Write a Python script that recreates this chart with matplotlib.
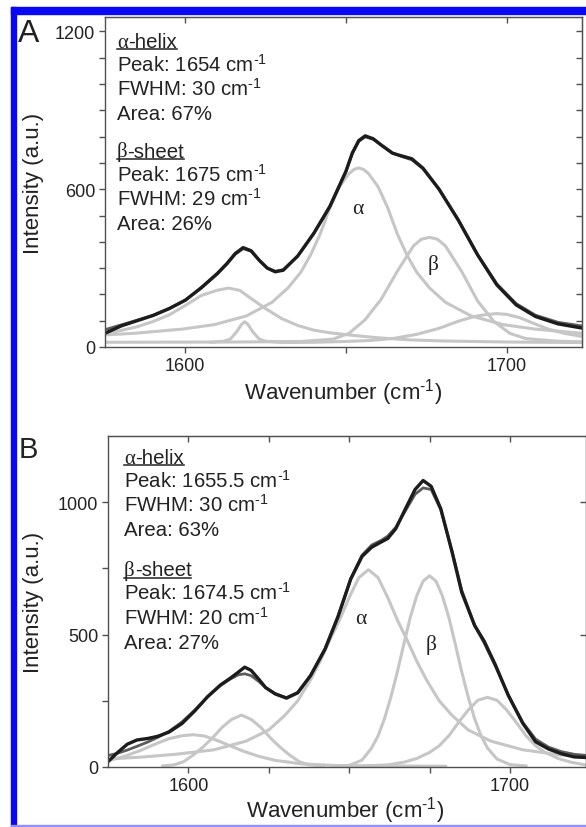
import matplotlib
matplotlib.use("Agg")
import matplotlib.pyplot as plt
from matplotlib.patches import Rectangle
from matplotlib.lines import Line2D

plt.rcParams['font.family'] = ['Liberation Sans', 'DejaVu Sans']
plt.rcParams['mathtext.fontset'] = 'custom'
plt.rcParams['mathtext.rm'] = 'Liberation Sans'
plt.rcParams['mathtext.default'] = 'regular'

W, H = 586, 828
DARK = '#1c1c1c'
FIT = '#5c5c5c'
LIGHT = '#c6c6c6'
SPINE = '#505050'
TXT = '#222222'
SERIF = ['Liberation Serif', 'DejaVu Serif']

# ---- Panel A data ----
a_wn = [1575, 1580, 1585, 1590, 1595, 1600, 1605, 1610, 1613, 1615.5, 1618, 1620.5,
        1623, 1625.5, 1628, 1630.5, 1635, 1640, 1645, 1650, 1652, 1654, 1656, 1658.5,
        1661, 1664.5, 1667, 1670.5, 1674, 1679, 1685, 1691, 1697, 1703, 1709, 1716, 1723.5]
a_meas = [52, 80, 100, 120, 146, 178, 226, 280, 318, 355, 378, 366,
          330, 300, 286, 292, 346, 432, 534, 668, 738, 785, 803, 792,
          768, 737, 728, 716, 680, 600, 482, 350, 236, 160, 116, 88, 72]
a_fit = [66, 84, 102, 121, 147, 178, 224, 278, 316, 352, 374, 364,
         330, 301, 288, 294, 346, 433, 536, 668, 736, 782, 799, 790,
         768, 738, 726, 712, 678, 600, 484, 352, 240, 165, 121, 94, 80]

a_b1_wn = [1575, 1580, 1585, 1590, 1595, 1600, 1605, 1610, 1613.5, 1617, 1621, 1625,
           1630, 1635, 1640, 1645, 1650, 1660, 1670, 1680, 1690, 1700, 1712, 1723.5]
a_b1 = [52, 63, 77, 97, 122, 158, 196, 216, 224, 215, 180, 146,
        108, 82, 64, 54, 47, 35, 27, 23, 21, 19, 18, 17]

a_b2_wn = [1608, 1612, 1614, 1616, 1617.5, 1618.5, 1619.5, 1621, 1623, 1625, 1629]
a_b2 = [18, 22, 30, 58, 86, 96, 86, 58, 30, 22, 18]

a_alpha_wn = [1575, 1584, 1599, 1609, 1619, 1627, 1632, 1636, 1639, 1642, 1645, 1648, 1651,
              1652.5, 1654, 1655.5, 1657, 1660, 1663, 1666, 1669, 1672, 1676, 1681, 1689,
              1699, 1709, 1723.5]
a_alpha = [46, 52, 68, 85, 118, 170, 225, 285, 350, 430, 530, 610, 660,
           675, 681, 675, 660, 610, 530, 430, 350, 285, 225, 170, 118,
           85, 68, 52]

a_beta_wn = [1575, 1616, 1636, 1646, 1651, 1656, 1661, 1666, 1671, 1673.5,
             1676, 1678.5, 1681, 1686, 1691, 1696, 1701, 1706, 1716, 1723.5]
a_beta = [18, 19, 21, 30, 52, 104, 182, 288, 384, 410,
          417, 410, 384, 288, 175, 98, 52, 32, 22, 20]

a_b5_wn = [1630, 1640, 1650, 1658, 1665, 1672, 1679, 1685, 1690, 1694, 1697, 1700,
           1704, 1708, 1713, 1718, 1723.5]
a_b5 = [17, 18, 21, 25, 33, 48, 71, 98, 116, 124, 127, 124, 112, 92, 68, 52, 40]

# ---- Panel B data ----
b_wn = [1575, 1578, 1581, 1584, 1587.5, 1590.5, 1594, 1598, 1602, 1606, 1610, 1613,
        1615.5, 1617.5, 1619.5, 1622, 1624, 1627, 1630.5, 1634, 1638, 1642.5, 1646.5,
        1650.5, 1654, 1657, 1660, 1662, 1664.5, 1667.5, 1670.5, 1673, 1675.5, 1678.5,
        1682, 1685, 1689, 1692, 1695.5, 1699.5, 1704, 1708, 1712, 1716, 1720, 1723.5]
b_meas = [20, 55, 86, 102, 108, 116, 132, 164, 212, 266, 310, 335,
          358, 377, 365, 330, 300, 276, 260, 280, 345, 445, 566,
          710, 795, 830, 850, 863, 900, 975, 1048, 1082, 1060, 975,
          812, 660, 535, 475, 385, 270, 165, 95, 68, 50, 38, 36]
b_fit = [43, 52, 64, 78, 95, 112, 135, 170, 215, 265, 308, 332,
         348, 352, 345, 322, 300, 277, 262, 282, 346, 447, 570,
         712, 800, 838, 856, 872, 905, 968, 1030, 1054, 1048, 972,
         815, 668, 535, 468, 380, 272, 168, 105, 75, 58, 48, 44]

b_b1_wn = [1575, 1580, 1585, 1590, 1594, 1598, 1601.5, 1605, 1609, 1613, 1617, 1622,
           1627, 1635, 1645, 1660, 1680]
b_b1 = [24, 40, 62, 88, 107, 118, 122, 117, 100, 80, 60, 40, 25, 12, 6, 4, 3]

b_b2_wn = [1592, 1595.5, 1598.5, 1601.5, 1604.5, 1607.5, 1610.5, 1613.5, 1616.5,
           1619.5, 1622.5, 1625.5, 1628.5, 1631.5, 1634.5, 1637.5, 1642]
b_b2 = [4, 8, 20, 45, 75, 110, 150, 180, 196, 180, 150, 110, 75, 45, 20, 8, 4]

b_alpha_wn = [1575, 1586, 1596, 1608, 1618, 1625, 1630, 1634, 1638, 1641, 1644, 1647, 1650,
              1653, 1656, 1659, 1662, 1665, 1668, 1671, 1674, 1678, 1682, 1687, 1694,
              1704, 1716, 1723.5]
b_alpha = [30, 38, 48, 65, 98, 140, 195, 250, 330, 400, 480, 555, 640,
           715, 745, 715, 640, 555, 480, 400, 330, 250, 195, 140, 98, 65, 45, 37]

b_beta_wn = [1645, 1650, 1654, 1657, 1659, 1661, 1663, 1665, 1667, 1669, 1671, 1673, 1675,
             1677, 1679, 1681, 1683, 1685, 1687, 1689, 1691, 1693, 1696, 1700, 1705]
b_beta = [3, 6, 26, 72, 118, 183, 265, 360, 464, 565, 646, 702, 722,
          702, 646, 565, 464, 360, 265, 183, 118, 72, 30, 9, 4]

b_b5_wn = [1655, 1662, 1667, 1671, 1675, 1678, 1681, 1684, 1687, 1690, 1693, 1696,
           1699, 1702, 1705, 1708, 1711, 1715, 1719, 1723.5]
b_b5 = [4, 8, 18, 32, 55, 80, 118, 168, 215, 252, 263, 252,
        215, 168, 118, 80, 55, 32, 18, 8]

# annotation text
SUP = r"$^{\text{-}1}$"
a_alpha_lines = ["Peak: 1654 cm" + SUP, "FWHM: 30 cm" + SUP, "Area: 67%"]
a_beta_lines = ["Peak: 1675 cm" + SUP, "FWHM: 29 cm" + SUP, "Area: 26%"]
b_alpha_lines = ["Peak: 1655.5 cm" + SUP, "FWHM: 30 cm" + SUP, "Area: 63%"]
b_beta_lines = ["Peak: 1674.5 cm" + SUP, "FWHM: 20 cm" + SUP, "Area: 27%"]


def fx(x):
    return x / W


def fy(y):
    return 1 - y / H


fig = plt.figure(figsize=(W / 100, H / 100), dpi=100)
ax_a = fig.add_axes([fx(105), fy(348), (582 - 105) / W, (348 - 18) / H])
ax_b = fig.add_axes([fx(108), fy(768), (585.5 - 108) / W, (768 - 437) / H])


def plot_panel(ax, comps, wn, fit, meas):
    for cx, cy in comps:
        ax.plot(cx, cy, color=LIGHT, lw=2.2, solid_joinstyle='round')
    ax.plot(wn, fit, color=FIT, lw=2.0, solid_joinstyle='round')
    ax.plot(wn, meas, color=DARK, lw=2.4, solid_joinstyle='round')


def style_axes(ax, ylim, xmaj, xmin, ymaj, ymin, top_ticks, right_ticks):
    ax.set_xlim(1575, 1723.5)
    ax.set_ylim(*ylim)
    ax.set_xticks(xmaj)
    ax.set_xticks(xmin, minor=True)
    ax.set_yticks(ymaj)
    ax.set_yticks(ymin, minor=True)
    ax.tick_params(which='both', direction='out', length=4.5, width=1, color=SPINE,
                   labelsize=13, labelcolor=TXT, pad=2.5)
    for s in ax.spines.values():
        s.set_color(SPINE)
        s.set_linewidth(1)
    sx = ax.secondary_xaxis('top')
    sx.set_xticks(top_ticks)
    sx.tick_params(direction='in', length=4.5, width=1, color=SPINE, labeltop=False)
    sx.spines['top'].set_color(SPINE)
    sy = ax.secondary_yaxis('right')
    sy.set_yticks(right_ticks)
    sy.tick_params(direction='in', length=4.5, width=1, color=SPINE, labelright=False)
    sy.spines['right'].set_color(SPINE)


plot_panel(ax_a, [(a_b1_wn, a_b1), (a_b2_wn, a_b2), (a_alpha_wn, a_alpha),
                  (a_beta_wn, a_beta), (a_b5_wn, a_b5)], a_wn, a_fit, a_meas)
plot_panel(ax_b, [(b_b1_wn, b_b1), (b_b2_wn, b_b2), (b_alpha_wn, b_alpha),
                  (b_beta_wn, b_beta), (b_b5_wn, b_b5)], b_wn, b_fit, b_meas)

style_axes(ax_a, (0, 1255), [1600, 1700], [1650], [0, 600, 1200],
           [100, 200, 300, 400, 500, 700, 800, 900, 1000, 1100],
           [1600, 1650, 1700], [100, 200, 300, 400, 500, 600, 700, 800, 900, 1000, 1100, 1200])
style_axes(ax_b, (0, 1250), [1600, 1700], [1625, 1650, 1675], [0, 500, 1000], [250, 750],
           [1600, 1625, 1650, 1675, 1700], [500, 1000])

# axis labels
fig.text(fx(343), fy(393), "Wavenumber (cm" + SUP + ")", fontsize=16, color=TXT,
         ha='center', va='center')
fig.text(fx(345), fy(811), "Wavenumber (cm" + SUP + ")", fontsize=16, color=TXT,
         ha='center', va='center')
fig.text(fx(33), fy(183), "Intensity (a.u.)", fontsize=16, color=TXT,
         ha='center', va='center', rotation=90)
fig.text(fx(33), fy(602), "Intensity (a.u.)", fontsize=16, color=TXT,
         ha='center', va='center', rotation=90)

# panel letters
fig.text(fx(18), fy(42), "A", fontsize=23, color=TXT, va='baseline')
fig.text(fx(19), fy(458), "B", fontsize=21, color=TXT, va='baseline')

# greek band labels inside plots
for x, y, s in [(358, 210, 'α'), (433, 265, 'β'), (361, 620, 'α'), (431, 645, 'β')]:
    fig.text(fx(x), fy(y), s, family=SERIF, fontsize=15.5, color=TXT, ha='center', va='center')

# annotation blocks
headings = []
for x, yb, g, rest, lines in [(117, 47.5, 'α', '-helix', a_alpha_lines),
                              (117, 157.5, 'β', '-sheet', a_beta_lines),
                              (124, 463.5, 'α', '-helix', b_alpha_lines),
                              (124, 576, 'β', '-sheet', b_beta_lines)]:
    tg = fig.text(fx(x), fy(yb), g, family=SERIF, fontsize=15, color=TXT, va='baseline')
    headings.append((tg, x, yb, rest))
    for i, s in enumerate(lines):
        fig.text(fx(x), fy(yb + 24.3 * (i + 1)), s, fontsize=14.7, color=TXT, va='baseline')

renderer = fig.canvas.get_renderer()
for tg, x, yb, rest in headings:
    bb = tg.get_window_extent(renderer)
    tr = fig.text(bb.x1 / W, fy(yb), rest, fontsize=14.7, color=TXT, va='baseline')
    bb2 = tr.get_window_extent(renderer)
    fig.add_artist(Line2D([fx(x), bb2.x1 / W], [fy(yb + 2.8), fy(yb + 2.8)],
                          transform=fig.transFigure, color=TXT, lw=1.1))

# blue frame around the figure
blue = '#0808f2'
fig.add_artist(Rectangle((fx(10.5), 0), 5.5 / W, fy(8), transform=fig.transFigure,
                         color=blue, zorder=10))
fig.add_artist(Rectangle((fx(10.5), fy(15)), 1 - fx(10.5), 7 / H, transform=fig.transFigure,
                         color=blue, zorder=10))
fig.add_artist(Rectangle((fx(10.5), 0), 1 - fx(10.5), 2 / H, transform=fig.transFigure,
                         color='#9090ff', zorder=10))

fig.savefig("out.png", dpi=100)
